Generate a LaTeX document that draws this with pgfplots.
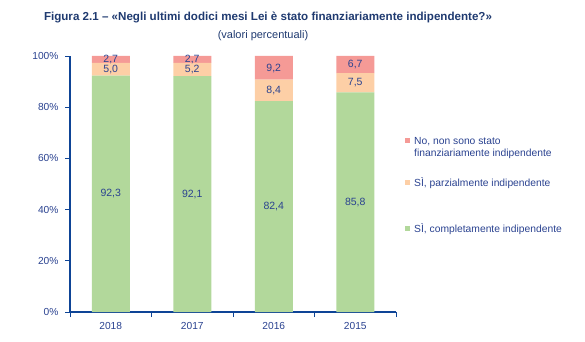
\documentclass[border=0pt]{standalone}
\usepackage{pgfplots}
\pgfplotsset{compat=1.18}
\usepackage{fontspec}
\setmainfont{Liberation Sans}
\definecolor{axiscol}{HTML}{0E4496}
\definecolor{txtcol}{HTML}{2A4290}
\definecolor{titcol}{HTML}{1F3A70}
\definecolor{cred}{HTML}{F59A96}
\definecolor{cpeach}{HTML}{FDCFA6}
\definecolor{cgreen}{HTML}{B2D89B}
\begin{document}
\begin{tikzpicture}[x=1bp,y=1bp]
\useasboundingbox (0,0) rectangle (585,341);
\node[anchor=base, font=\fontsize{11.6bp}{13bp}\selectfont\bfseries, text=titcol, inner sep=0pt] at (268,320.3) {Figura 2.1 – «Negli ultimi dodici mesi Lei è stato finanziariamente indipendente?»};
\node[anchor=base, font=\fontsize{11bp}{12bp}\selectfont, text=titcol, inner sep=0pt] at (263,303) {(valori percentuali)};
\begin{axis}[
  at={(70bp,29bp)}, anchor=south west,
  scale only axis, width=326bp, height=256bp,
  xmin=-0.5, xmax=3.5, ymin=0, ymax=100,
  ybar stacked, bar width=38bp,
  axis x line*=bottom, axis y line*=left,
  axis line style={draw=axiscol, line width=1.6bp},
  xtick={-0.5,0.5,1.5,2.5,3.5}, x tick label as interval,
  xticklabels={2018,2017,2016,2015},
  ytick={0,20,40,60,80,100},
  yticklabel={\pgfmathprintnumber{\tick}\%},
  tick align=outside, major tick length=5bp,
  tick style={draw=axiscol, line width=0.8bp},
  ticklabel style={font=\fontsize{10.2bp}{12bp}\selectfont, text=txtcol},
  yticklabel style={xshift=-3bp},
  xticklabel style={yshift=-2bp},
  /pgf/number format/assume math mode=true,
  legend style={draw=none, fill=none, at={(axis description cs:1.0276,0.685)}, anchor=north west,
    inner sep=0pt, font=\fontsize{10.3bp}{12bp}\selectfont, row sep=0pt, column sep=4bp,
    nodes={inner sep=0pt, text depth=, text=txtcol}, cells={anchor=base west}},
  legend image code/.code={\fill[#1] (0bp,1.5bp) rectangle (5bp,6.5bp);},
  reverse legend,
]
\addplot[fill=cgreen, draw=none] coordinates {(0,92.3) (1,92.1) (2,82.4) (3,85.8)};
\addplot[fill=cpeach, draw=none] coordinates {(0,5.0) (1,5.2) (2,8.4) (3,7.5)};
\addplot[fill=cred, draw=none] coordinates {(0,2.7) (1,2.7) (2,9.2) (3,6.7)};
\addlegendentry{\rule[-2bp]{0pt}{10bp}SÌ, completamente indipendente}
\addlegendentry{\rule[-36.3bp]{0pt}{44.3bp}SÌ, parzialmente indipendente}
\addlegendentry{\parbox[t]{5cm}{\rule{0pt}{8bp}No, non sono stato\par finanziariamente indipendente\rule[-21bp]{0pt}{21bp}}}
\end{axis}
\begin{axis}[
  at={(70bp,29bp)}, anchor=south west,
  scale only axis, width=326bp, height=256bp,
  xmin=-0.5, xmax=3.5, ymin=0, ymax=100,
  hide axis,
  point meta=explicit,
  nodes near coords={\pgfmathprintnumber[fixed,fixed zerofill,precision=1,use comma,assume math mode=true]{\pgfplotspointmeta}},
  nodes near coords style={anchor=center, inner sep=0pt, font=\fontsize{10.5bp}{12bp}\selectfont, text=txtcol},
]
\addplot[draw=none, mark=none] table[x=x, y=y, meta=m] {
x y m
0 46.15 92.3
1 46.05 92.1
2 41.2 82.4
3 42.9 85.8
0 94.8 5.0
1 94.7 5.2
2 86.6 8.4
3 89.55 7.5
0 98.65 2.7
1 98.65 2.7
2 95.1 9.2
3 96.65 6.7
};
\end{axis}
\end{tikzpicture}
\end{document}
